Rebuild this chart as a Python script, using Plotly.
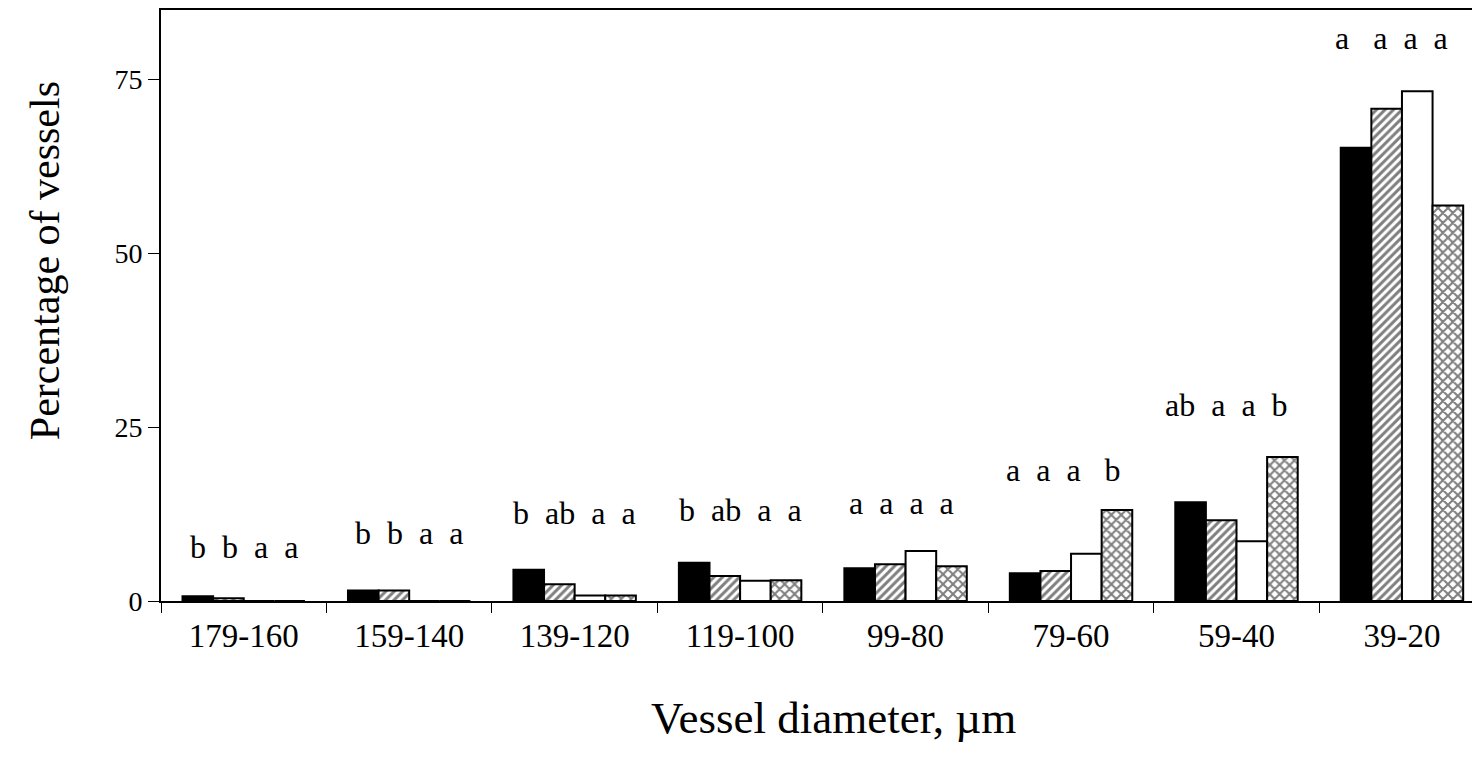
import plotly.graph_objects as go

categories = ["179-160", "159-140", "139-120", "119-100", "99-80", "79-60", "59-40", "39-20"]
series1 = [0.7, 1.5, 4.5, 5.5, 4.7, 4.0, 14.2, 65.2]
series2 = [0.4, 1.5, 2.4, 3.6, 5.3, 4.3, 11.6, 70.8]
series3 = [0.0, 0.0, 0.8, 2.9, 7.2, 6.8, 8.6, 73.3]
series4 = [0.0, 0.0, 0.8, 3.0, 5.0, 13.1, 20.7, 56.9]
letters = [
    ["b", "b", "a", "a"],
    ["b", "b", "a", "a"],
    ["b", "ab", "a", "a"],
    ["b", "ab", "a", "a"],
    ["a", "a", "a", "a"],
    ["a", "a", "a", "", "b"],
    ["ab", "a", "a", "b"],
    ["a", "", "a", "a", "a"],
]
letter_y = [7.8, 9.8, 12.6, 13.1, 14.1, 18.8, 28.2, 81.0]
letter_shift = [0, 0, 0, 0, -4, -8, -10, -10]

FONT = "Liberation Serif"
SEP = "\u00a0\u00a0"

fig = go.Figure()
line = dict(color="black", width=2)
fig.add_bar(x=categories, y=series1, name="1", marker=dict(color="black", line=line))
fig.add_bar(x=categories, y=series2, name="2",
            marker=dict(color="white", line=line,
                        pattern=dict(shape="/", fgcolor="black", bgcolor="white", size=6, solidity=0.5)))
fig.add_bar(x=categories, y=series3, name="3", marker=dict(color="white", line=line))
fig.add_bar(x=categories, y=series4, name="4",
            marker=dict(color="white", line=line,
                        pattern=dict(shape="x", fgcolor="black", bgcolor="white", size=7, solidity=0.5)))

for c, parts, yv, xs in zip(categories, letters, letter_y, letter_shift):
    text = SEP.join(parts).replace(SEP + SEP, SEP + "\u00a0")
    fig.add_annotation(x=c, y=yv, text=text, showarrow=False, yanchor="middle", xshift=xs,
                       font=dict(family=FONT, size=32, color="black"))

fig.add_annotation(text="Vessel diameter, µm", xref="paper", yref="paper", x=0.507, y=-0.198,
                   xanchor="center", yanchor="middle", showarrow=False,
                   font=dict(family=FONT, size=45, color="black"))
fig.add_annotation(text="Percentage of vessels", xref="paper", yref="paper", x=-0.0874, y=0.575,
                   xanchor="center", yanchor="middle", showarrow=False, textangle=-90,
                   font=dict(family=FONT, size=42, color="black"))

fig.update_layout(
    width=1480, height=766,
    barmode="group", bargap=0.26, bargroupgap=0,
    showlegend=False,
    plot_bgcolor="white", paper_bgcolor="white",
    margin=dict(l=153, r=0, t=2, b=173),
    font=dict(family=FONT, color="black"),
)
fig.update_xaxes(
    type="category", range=[-0.5, 7.52],
    showline=True, linecolor="black", linewidth=2, mirror=True,
    ticks="outside", tickson="boundaries", ticklen=10, tickcolor="black", tickwidth=1,
    tickfont=dict(family=FONT, size=33, color="black"), ticklabelstandoff=4,
    showgrid=False,
)
fig.update_yaxes(
    range=[0, 85], tickvals=[0, 25, 50, 75],
    showline=True, linecolor="black", linewidth=2,
    ticks="outside", ticklen=11, tickcolor="black", tickwidth=1,
    tickfont=dict(family=FONT, size=28, color="black"),
    showgrid=False, zeroline=False,
)

fig.write_html("out.html")
